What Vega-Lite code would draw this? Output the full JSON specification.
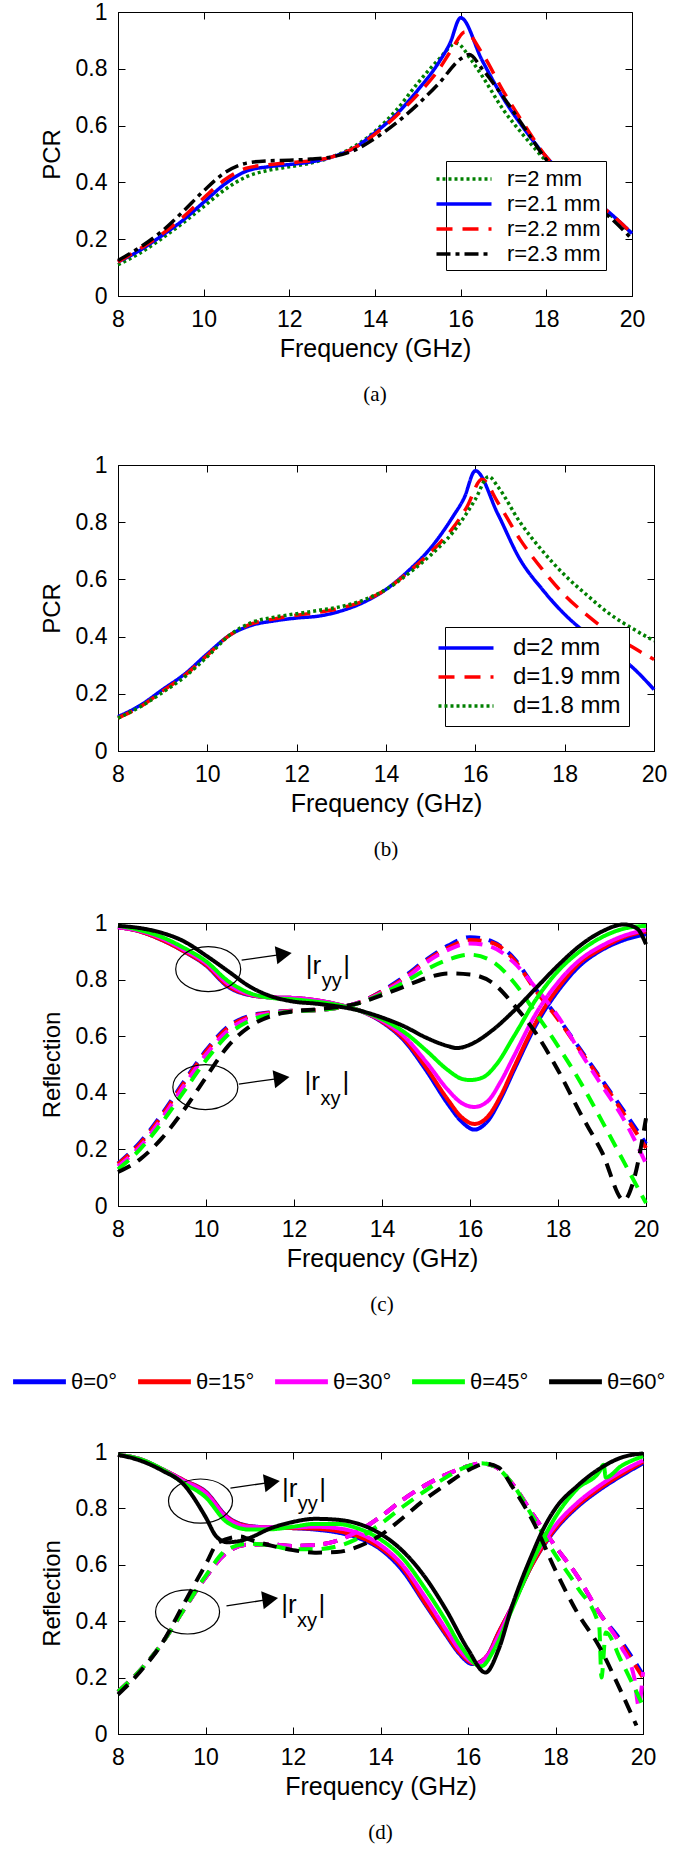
{
"$schema": "https://vega.github.io/schema/vega-lite/v6.json",
"padding": {"left": 25, "top": 0, "right": 5, "bottom": 5},
"background": "white",
"bounds": "flush",
"spacing": 0,
"resolve": {"scale": {"color": "independent", "strokeDash": "independent"}, "legend": {"color": "independent", "strokeDash": "independent"}},
"config": {
  "font": "Liberation Sans",
  "view": {"stroke": "black", "strokeWidth": 1},
  "axis": {"labelFont": "Liberation Sans", "titleFont": "Liberation Sans", "labelFontSize": 23, "titleFontSize": 24, "titleFontWeight": "normal", "labelColor": "black", "titleColor": "black", "domainColor": "black", "tickColor": "black", "tickSize": -7, "grid": false, "labelFlush": false, "labelOverlap": false, "domainWidth": 1, "tickWidth": 1},
  "axisX": {"labelPadding": 19, "titlePadding": 5, "titleFontSize": 25},
  "axisY": {"labelPadding": 18, "titlePadding": 11},
  "title": {"orient": "bottom", "font": "Liberation Serif", "fontSize": 21, "fontWeight": "normal", "offset": 23, "color": "black"},
  "legend": {"labelFont": "Liberation Sans", "labelColor": "black"}
},
"vconcat": [
{
"width": 514, "height": 284,
"title": {"text": "(a)"},
"resolve": {"axis": {"x": "independent", "y": "independent"}},
"data": {"values": [
{"f":8,"v":0.11,"s":"r=2 mm"},{"f":8.5,"v":0.15,"s":"r=2 mm"},{"f":9,"v":0.2,"s":"r=2 mm"},{"f":9.5,"v":0.255,"s":"r=2 mm"},{"f":10,"v":0.315,"s":"r=2 mm"},{"f":10.5,"v":0.375,"s":"r=2 mm"},{"f":11,"v":0.42,"s":"r=2 mm"},{"f":11.5,"v":0.442,"s":"r=2 mm"},{"f":12,"v":0.455,"s":"r=2 mm"},{"f":12.5,"v":0.468,"s":"r=2 mm"},{"f":13,"v":0.49,"s":"r=2 mm"},{"f":13.5,"v":0.525,"s":"r=2 mm"},{"f":14,"v":0.58,"s":"r=2 mm"},{"f":14.5,"v":0.655,"s":"r=2 mm"},{"f":15,"v":0.75,"s":"r=2 mm"},{"f":15.5,"v":0.835,"s":"r=2 mm"},{"f":15.9,"v":0.89,"s":"r=2 mm"},{"f":16.25,"v":0.83,"s":"r=2 mm"},{"f":16.5,"v":0.775,"s":"r=2 mm"},{"f":17,"v":0.655,"s":"r=2 mm"},{"f":17.5,"v":0.56,"s":"r=2 mm"},{"f":18,"v":0.475,"s":"r=2 mm"},{"f":18.5,"v":0.405,"s":"r=2 mm"},{"f":19,"v":0.345,"s":"r=2 mm"},{"f":19.5,"v":0.285,"s":"r=2 mm"},{"f":20,"v":0.22,"s":"r=2 mm"},
{"f":8,"v":0.12,"s":"r=2.1 mm"},{"f":8.5,"v":0.16,"s":"r=2.1 mm"},{"f":9,"v":0.21,"s":"r=2.1 mm"},{"f":9.5,"v":0.265,"s":"r=2.1 mm"},{"f":10,"v":0.33,"s":"r=2.1 mm"},{"f":10.5,"v":0.395,"s":"r=2.1 mm"},{"f":11,"v":0.44,"s":"r=2.1 mm"},{"f":11.5,"v":0.455,"s":"r=2.1 mm"},{"f":12,"v":0.463,"s":"r=2.1 mm"},{"f":12.5,"v":0.472,"s":"r=2.1 mm"},{"f":13,"v":0.49,"s":"r=2.1 mm"},{"f":13.5,"v":0.52,"s":"r=2.1 mm"},{"f":14,"v":0.575,"s":"r=2.1 mm"},{"f":14.5,"v":0.64,"s":"r=2.1 mm"},{"f":15,"v":0.725,"s":"r=2.1 mm"},{"f":15.5,"v":0.825,"s":"r=2.1 mm"},{"f":15.75,"v":0.89,"s":"r=2.1 mm"},{"f":16,"v":0.98,"s":"r=2.1 mm"},{"f":16.5,"v":0.83,"s":"r=2.1 mm"},{"f":17,"v":0.695,"s":"r=2.1 mm"},{"f":17.5,"v":0.585,"s":"r=2.1 mm"},{"f":18,"v":0.49,"s":"r=2.1 mm"},{"f":18.5,"v":0.415,"s":"r=2.1 mm"},{"f":19,"v":0.35,"s":"r=2.1 mm"},{"f":19.5,"v":0.29,"s":"r=2.1 mm"},{"f":20,"v":0.22,"s":"r=2.1 mm"},
{"f":8,"v":0.12,"s":"r=2.2 mm"},{"f":8.5,"v":0.165,"s":"r=2.2 mm"},{"f":9,"v":0.215,"s":"r=2.2 mm"},{"f":9.5,"v":0.275,"s":"r=2.2 mm"},{"f":10,"v":0.345,"s":"r=2.2 mm"},{"f":10.5,"v":0.41,"s":"r=2.2 mm"},{"f":11,"v":0.45,"s":"r=2.2 mm"},{"f":11.5,"v":0.462,"s":"r=2.2 mm"},{"f":12,"v":0.47,"s":"r=2.2 mm"},{"f":12.5,"v":0.476,"s":"r=2.2 mm"},{"f":13,"v":0.49,"s":"r=2.2 mm"},{"f":13.5,"v":0.52,"s":"r=2.2 mm"},{"f":14,"v":0.57,"s":"r=2.2 mm"},{"f":14.5,"v":0.635,"s":"r=2.2 mm"},{"f":15,"v":0.71,"s":"r=2.2 mm"},{"f":15.5,"v":0.8,"s":"r=2.2 mm"},{"f":15.8,"v":0.87,"s":"r=2.2 mm"},{"f":16.1,"v":0.93,"s":"r=2.2 mm"},{"f":16.5,"v":0.855,"s":"r=2.2 mm"},{"f":17,"v":0.72,"s":"r=2.2 mm"},{"f":17.5,"v":0.6,"s":"r=2.2 mm"},{"f":18,"v":0.49,"s":"r=2.2 mm"},{"f":18.5,"v":0.415,"s":"r=2.2 mm"},{"f":19,"v":0.35,"s":"r=2.2 mm"},{"f":19.5,"v":0.29,"s":"r=2.2 mm"},{"f":20,"v":0.22,"s":"r=2.2 mm"},
{"f":8,"v":0.125,"s":"r=2.3 mm"},{"f":8.5,"v":0.17,"s":"r=2.3 mm"},{"f":9,"v":0.225,"s":"r=2.3 mm"},{"f":9.5,"v":0.295,"s":"r=2.3 mm"},{"f":10,"v":0.37,"s":"r=2.3 mm"},{"f":10.5,"v":0.435,"s":"r=2.3 mm"},{"f":11,"v":0.468,"s":"r=2.3 mm"},{"f":11.5,"v":0.476,"s":"r=2.3 mm"},{"f":12,"v":0.478,"s":"r=2.3 mm"},{"f":12.5,"v":0.482,"s":"r=2.3 mm"},{"f":13,"v":0.49,"s":"r=2.3 mm"},{"f":13.5,"v":0.512,"s":"r=2.3 mm"},{"f":14,"v":0.555,"s":"r=2.3 mm"},{"f":14.5,"v":0.61,"s":"r=2.3 mm"},{"f":15,"v":0.675,"s":"r=2.3 mm"},{"f":15.5,"v":0.75,"s":"r=2.3 mm"},{"f":16,"v":0.835,"s":"r=2.3 mm"},{"f":16.2,"v":0.85,"s":"r=2.3 mm"},{"f":16.5,"v":0.8,"s":"r=2.3 mm"},{"f":17,"v":0.7,"s":"r=2.3 mm"},{"f":17.5,"v":0.59,"s":"r=2.3 mm"},{"f":18,"v":0.48,"s":"r=2.3 mm"},{"f":18.5,"v":0.4,"s":"r=2.3 mm"},{"f":19,"v":0.335,"s":"r=2.3 mm"},{"f":19.5,"v":0.275,"s":"r=2.3 mm"},{"f":20,"v":0.2,"s":"r=2.3 mm"}
]},
"layer": [
{"mark": {"type": "line", "interpolate": "monotone", "strokeWidth": 3.5},
 "encoding": {
  "x": {"field": "f", "type": "quantitative", "scale": {"domain": [8, 20], "nice": false, "zero": false}, "axis": {"title": "Frequency (GHz)", "values": [8, 10, 12, 14, 16, 18, 20]}},
  "y": {"field": "v", "type": "quantitative", "scale": {"domain": [0, 1], "nice": false}, "axis": {"title": "PCR", "values": [0, 0.2, 0.4, 0.6, 0.8, 1], "format": ".1~f"}},
  "color": {"field": "s", "type": "nominal", "scale": {"domain": ["r=2 mm", "r=2.1 mm", "r=2.2 mm", "r=2.3 mm"], "range": ["#008000", "#0000ff", "#ff0000", "#000000"]}, "legend": {"title": null, "orient": "bottom-right", "offset": 26, "strokeColor": "black", "fillColor": "white", "padding": 5, "labelFontSize": 22, "symbolType": "M -2.5 0 L 2.5 0", "symbolSize": 484, "symbolStrokeWidth": 3.5, "rowPadding": 1, "labelOffset": 30}},
  "strokeDash": {"field": "s", "type": "nominal", "scale": {"domain": ["r=2 mm", "r=2.1 mm", "r=2.2 mm", "r=2.3 mm"], "range": [[3, 3], [1, 0], [16, 10], [14, 5, 4, 5]]}, "legend": {"title": null, "orient": "bottom-right", "offset": 26, "strokeColor": "black", "fillColor": "white", "padding": 5, "labelFontSize": 22, "symbolType": "M -2.5 0 L 2.5 0", "symbolSize": 484, "symbolStrokeWidth": 3.5, "rowPadding": 1, "labelOffset": 30}}
 }},
{"mark": {"type": "point", "opacity": 0},
 "encoding": {
  "x": {"field": "f", "type": "quantitative", "scale": {"domain": [8, 20], "nice": false, "zero": false}, "axis": {"orient": "top", "title": null, "labels": false, "domain": false, "values": [8, 10, 12, 14, 16, 18, 20]}},
  "y": {"field": "v", "type": "quantitative", "scale": {"domain": [0, 1], "nice": false}, "axis": {"orient": "right", "title": null, "labels": false, "domain": false, "values": [0, 0.2, 0.4, 0.6, 0.8, 1]}}
 }}
]
},
{"width": 1, "height": 169, "view": {"stroke": null}, "data": {"values": [{}]}, "mark": {"type": "point", "opacity": 0}, "encoding": {}},
{
"width": 536, "height": 286,
"title": {"text": "(b)"},
"resolve": {"axis": {"x": "independent", "y": "independent"}},
"data": {"values": [
{"f":8,"v":0.12,"s":"d=2 mm"},{"f":8.5,"v":0.16,"s":"d=2 mm"},{"f":9,"v":0.215,"s":"d=2 mm"},{"f":9.5,"v":0.27,"s":"d=2 mm"},{"f":10,"v":0.34,"s":"d=2 mm"},{"f":10.5,"v":0.405,"s":"d=2 mm"},{"f":11,"v":0.44,"s":"d=2 mm"},{"f":11.5,"v":0.455,"s":"d=2 mm"},{"f":12,"v":0.465,"s":"d=2 mm"},{"f":12.5,"v":0.472,"s":"d=2 mm"},{"f":13,"v":0.49,"s":"d=2 mm"},{"f":13.5,"v":0.52,"s":"d=2 mm"},{"f":14,"v":0.565,"s":"d=2 mm"},{"f":14.5,"v":0.63,"s":"d=2 mm"},{"f":15,"v":0.71,"s":"d=2 mm"},{"f":15.5,"v":0.82,"s":"d=2 mm"},{"f":15.75,"v":0.885,"s":"d=2 mm"},{"f":16,"v":0.98,"s":"d=2 mm"},{"f":16.5,"v":0.83,"s":"d=2 mm"},{"f":17,"v":0.67,"s":"d=2 mm"},{"f":17.5,"v":0.565,"s":"d=2 mm"},{"f":18,"v":0.478,"s":"d=2 mm"},{"f":18.5,"v":0.41,"s":"d=2 mm"},{"f":19,"v":0.355,"s":"d=2 mm"},{"f":19.5,"v":0.295,"s":"d=2 mm"},{"f":20,"v":0.215,"s":"d=2 mm"},
{"f":8,"v":0.115,"s":"d=1.9 mm"},{"f":8.5,"v":0.155,"s":"d=1.9 mm"},{"f":9,"v":0.21,"s":"d=1.9 mm"},{"f":9.5,"v":0.265,"s":"d=1.9 mm"},{"f":10,"v":0.335,"s":"d=1.9 mm"},{"f":10.5,"v":0.405,"s":"d=1.9 mm"},{"f":11,"v":0.445,"s":"d=1.9 mm"},{"f":11.5,"v":0.462,"s":"d=1.9 mm"},{"f":12,"v":0.475,"s":"d=1.9 mm"},{"f":12.5,"v":0.485,"s":"d=1.9 mm"},{"f":13,"v":0.5,"s":"d=1.9 mm"},{"f":13.5,"v":0.525,"s":"d=1.9 mm"},{"f":14,"v":0.565,"s":"d=1.9 mm"},{"f":14.5,"v":0.625,"s":"d=1.9 mm"},{"f":15,"v":0.695,"s":"d=1.9 mm"},{"f":15.5,"v":0.78,"s":"d=1.9 mm"},{"f":15.8,"v":0.85,"s":"d=1.9 mm"},{"f":16.15,"v":0.95,"s":"d=1.9 mm"},{"f":16.5,"v":0.87,"s":"d=1.9 mm"},{"f":17,"v":0.74,"s":"d=1.9 mm"},{"f":17.5,"v":0.635,"s":"d=1.9 mm"},{"f":18,"v":0.545,"s":"d=1.9 mm"},{"f":18.5,"v":0.475,"s":"d=1.9 mm"},{"f":19,"v":0.415,"s":"d=1.9 mm"},{"f":19.5,"v":0.365,"s":"d=1.9 mm"},{"f":20,"v":0.32,"s":"d=1.9 mm"},
{"f":8,"v":0.115,"s":"d=1.8 mm"},{"f":8.5,"v":0.155,"s":"d=1.8 mm"},{"f":9,"v":0.205,"s":"d=1.8 mm"},{"f":9.5,"v":0.26,"s":"d=1.8 mm"},{"f":10,"v":0.33,"s":"d=1.8 mm"},{"f":10.5,"v":0.405,"s":"d=1.8 mm"},{"f":11,"v":0.45,"s":"d=1.8 mm"},{"f":11.5,"v":0.468,"s":"d=1.8 mm"},{"f":12,"v":0.48,"s":"d=1.8 mm"},{"f":12.5,"v":0.492,"s":"d=1.8 mm"},{"f":13,"v":0.505,"s":"d=1.8 mm"},{"f":13.5,"v":0.528,"s":"d=1.8 mm"},{"f":14,"v":0.565,"s":"d=1.8 mm"},{"f":14.5,"v":0.62,"s":"d=1.8 mm"},{"f":15,"v":0.685,"s":"d=1.8 mm"},{"f":15.5,"v":0.765,"s":"d=1.8 mm"},{"f":15.8,"v":0.83,"s":"d=1.8 mm"},{"f":16,"v":0.88,"s":"d=1.8 mm"},{"f":16.3,"v":0.96,"s":"d=1.8 mm"},{"f":16.5,"v":0.925,"s":"d=1.8 mm"},{"f":17,"v":0.8,"s":"d=1.8 mm"},{"f":17.5,"v":0.7,"s":"d=1.8 mm"},{"f":18,"v":0.615,"s":"d=1.8 mm"},{"f":18.5,"v":0.545,"s":"d=1.8 mm"},{"f":19,"v":0.48,"s":"d=1.8 mm"},{"f":19.5,"v":0.43,"s":"d=1.8 mm"},{"f":20,"v":0.385,"s":"d=1.8 mm"}
]},
"layer": [
{"mark": {"type": "line", "interpolate": "monotone", "strokeWidth": 3.5},
 "encoding": {
  "x": {"field": "f", "type": "quantitative", "scale": {"domain": [8, 20], "nice": false, "zero": false}, "axis": {"title": "Frequency (GHz)", "values": [8, 10, 12, 14, 16, 18, 20]}},
  "y": {"field": "v", "type": "quantitative", "scale": {"domain": [0, 1], "nice": false}, "axis": {"title": "PCR", "values": [0, 0.2, 0.4, 0.6, 0.8, 1], "format": ".1~f"}},
  "color": {"field": "s", "type": "nominal", "scale": {"domain": ["d=2 mm", "d=1.9 mm", "d=1.8 mm"], "range": ["#0000ff", "#ff0000", "#008000"]}, "legend": {"title": null, "orient": "bottom-right", "offset": 25, "strokeColor": "black", "fillColor": "white", "padding": 8, "labelFontSize": 24, "symbolType": "M -2.5 0 L 2.5 0", "symbolSize": 484, "symbolStrokeWidth": 3.5, "rowPadding": 4, "labelOffset": 34}},
  "strokeDash": {"field": "s", "type": "nominal", "scale": {"domain": ["d=2 mm", "d=1.9 mm", "d=1.8 mm"], "range": [[1, 0], [16, 10], [3, 3]]}, "legend": {"title": null, "orient": "bottom-right", "offset": 25, "strokeColor": "black", "fillColor": "white", "padding": 8, "labelFontSize": 24, "symbolType": "M -2.5 0 L 2.5 0", "symbolSize": 484, "symbolStrokeWidth": 3.5, "rowPadding": 4, "labelOffset": 34}}
 }},
{"mark": {"type": "point", "opacity": 0},
 "encoding": {
  "x": {"field": "f", "type": "quantitative", "scale": {"domain": [8, 20], "nice": false, "zero": false}, "axis": {"orient": "top", "title": null, "labels": false, "domain": false, "values": [8, 10, 12, 14, 16, 18, 20]}},
  "y": {"field": "v", "type": "quantitative", "scale": {"domain": [0, 1], "nice": false}, "axis": {"orient": "right", "title": null, "labels": false, "domain": false, "values": [0, 0.2, 0.4, 0.6, 0.8, 1]}}
 }}
]
},
{"width": 1, "height": 172, "view": {"stroke": null}, "data": {"values": [{}]}, "mark": {"type": "point", "opacity": 0}, "encoding": {}},
{
"width": 528, "height": 283,
"title": {"text": "(c)"},
"resolve": {"axis": {"x": "independent", "y": "independent"}},
"data": {"values": [
{"f":8,"v":0.985,"a":0,"c":"yy"},{"f":8.5,"v":0.97,"a":0,"c":"yy"},{"f":9,"v":0.94,"a":0,"c":"yy"},{"f":9.5,"v":0.9,"a":0,"c":"yy"},{"f":10,"v":0.85,"a":0,"c":"yy"},{"f":10.5,"v":0.775,"a":0,"c":"yy"},{"f":11,"v":0.745,"a":0,"c":"yy"},{"f":11.5,"v":0.737,"a":0,"c":"yy"},{"f":12,"v":0.735,"a":0,"c":"yy"},{"f":12.5,"v":0.727,"a":0,"c":"yy"},{"f":13,"v":0.712,"a":0,"c":"yy"},{"f":13.5,"v":0.69,"a":0,"c":"yy"},{"f":14,"v":0.65,"a":0,"c":"yy"},{"f":14.5,"v":0.585,"a":0,"c":"yy"},{"f":15,"v":0.48,"a":0,"c":"yy"},{"f":15.5,"v":0.36,"a":0,"c":"yy"},{"f":15.8,"v":0.3,"a":0,"c":"yy"},{"f":16.1,"v":0.27,"a":0,"c":"yy"},{"f":16.4,"v":0.3,"a":0,"c":"yy"},{"f":16.7,"v":0.38,"a":0,"c":"yy"},{"f":17,"v":0.48,"a":0,"c":"yy"},{"f":17.5,"v":0.64,"a":0,"c":"yy"},{"f":18,"v":0.76,"a":0,"c":"yy"},{"f":18.5,"v":0.85,"a":0,"c":"yy"},{"f":19,"v":0.905,"a":0,"c":"yy"},{"f":19.5,"v":0.94,"a":0,"c":"yy"},{"f":20,"v":0.96,"a":0,"c":"yy"},
{"f":8,"v":0.15,"a":0,"c":"xy"},{"f":8.5,"v":0.225,"a":0,"c":"xy"},{"f":9,"v":0.325,"a":0,"c":"xy"},{"f":9.5,"v":0.44,"a":0,"c":"xy"},{"f":10,"v":0.55,"a":0,"c":"xy"},{"f":10.5,"v":0.635,"a":0,"c":"xy"},{"f":11,"v":0.672,"a":0,"c":"xy"},{"f":11.5,"v":0.685,"a":0,"c":"xy"},{"f":12,"v":0.69,"a":0,"c":"xy"},{"f":12.5,"v":0.692,"a":0,"c":"xy"},{"f":13,"v":0.7,"a":0,"c":"xy"},{"f":13.5,"v":0.72,"a":0,"c":"xy"},{"f":14,"v":0.76,"a":0,"c":"xy"},{"f":14.5,"v":0.81,"a":0,"c":"xy"},{"f":15,"v":0.87,"a":0,"c":"xy"},{"f":15.5,"v":0.92,"a":0,"c":"xy"},{"f":16,"v":0.95,"a":0,"c":"xy"},{"f":16.5,"v":0.935,"a":0,"c":"xy"},{"f":17,"v":0.875,"a":0,"c":"xy"},{"f":17.5,"v":0.765,"a":0,"c":"xy"},{"f":18,"v":0.665,"a":0,"c":"xy"},{"f":18.5,"v":0.555,"a":0,"c":"xy"},{"f":19,"v":0.445,"a":0,"c":"xy"},{"f":19.5,"v":0.335,"a":0,"c":"xy"},{"f":20,"v":0.22,"a":0,"c":"xy"},
{"f":8,"v":0.985,"a":15,"c":"yy"},{"f":8.5,"v":0.97,"a":15,"c":"yy"},{"f":9,"v":0.94,"a":15,"c":"yy"},{"f":9.5,"v":0.9,"a":15,"c":"yy"},{"f":10,"v":0.852,"a":15,"c":"yy"},{"f":10.5,"v":0.778,"a":15,"c":"yy"},{"f":11,"v":0.746,"a":15,"c":"yy"},{"f":11.5,"v":0.737,"a":15,"c":"yy"},{"f":12,"v":0.735,"a":15,"c":"yy"},{"f":12.5,"v":0.727,"a":15,"c":"yy"},{"f":13,"v":0.712,"a":15,"c":"yy"},{"f":13.5,"v":0.69,"a":15,"c":"yy"},{"f":14,"v":0.652,"a":15,"c":"yy"},{"f":14.5,"v":0.59,"a":15,"c":"yy"},{"f":15,"v":0.49,"a":15,"c":"yy"},{"f":15.5,"v":0.375,"a":15,"c":"yy"},{"f":15.8,"v":0.315,"a":15,"c":"yy"},{"f":16.1,"v":0.29,"a":15,"c":"yy"},{"f":16.4,"v":0.315,"a":15,"c":"yy"},{"f":16.7,"v":0.39,"a":15,"c":"yy"},{"f":17,"v":0.49,"a":15,"c":"yy"},{"f":17.5,"v":0.65,"a":15,"c":"yy"},{"f":18,"v":0.77,"a":15,"c":"yy"},{"f":18.5,"v":0.86,"a":15,"c":"yy"},{"f":19,"v":0.91,"a":15,"c":"yy"},{"f":19.5,"v":0.95,"a":15,"c":"yy"},{"f":20,"v":0.97,"a":15,"c":"yy"},
{"f":8,"v":0.148,"a":15,"c":"xy"},{"f":8.5,"v":0.22,"a":15,"c":"xy"},{"f":9,"v":0.32,"a":15,"c":"xy"},{"f":9.5,"v":0.435,"a":15,"c":"xy"},{"f":10,"v":0.545,"a":15,"c":"xy"},{"f":10.5,"v":0.63,"a":15,"c":"xy"},{"f":11,"v":0.67,"a":15,"c":"xy"},{"f":11.5,"v":0.684,"a":15,"c":"xy"},{"f":12,"v":0.69,"a":15,"c":"xy"},{"f":12.5,"v":0.692,"a":15,"c":"xy"},{"f":13,"v":0.7,"a":15,"c":"xy"},{"f":13.5,"v":0.72,"a":15,"c":"xy"},{"f":14,"v":0.758,"a":15,"c":"xy"},{"f":14.5,"v":0.805,"a":15,"c":"xy"},{"f":15,"v":0.865,"a":15,"c":"xy"},{"f":15.5,"v":0.912,"a":15,"c":"xy"},{"f":16,"v":0.94,"a":15,"c":"xy"},{"f":16.5,"v":0.93,"a":15,"c":"xy"},{"f":17,"v":0.87,"a":15,"c":"xy"},{"f":17.5,"v":0.76,"a":15,"c":"xy"},{"f":18,"v":0.66,"a":15,"c":"xy"},{"f":18.5,"v":0.55,"a":15,"c":"xy"},{"f":19,"v":0.44,"a":15,"c":"xy"},{"f":19.5,"v":0.325,"a":15,"c":"xy"},{"f":20,"v":0.205,"a":15,"c":"xy"},
{"f":8,"v":0.985,"a":30,"c":"yy"},{"f":8.5,"v":0.972,"a":30,"c":"yy"},{"f":9,"v":0.945,"a":30,"c":"yy"},{"f":9.5,"v":0.905,"a":30,"c":"yy"},{"f":10,"v":0.858,"a":30,"c":"yy"},{"f":10.5,"v":0.785,"a":30,"c":"yy"},{"f":11,"v":0.748,"a":30,"c":"yy"},{"f":11.5,"v":0.737,"a":30,"c":"yy"},{"f":12,"v":0.735,"a":30,"c":"yy"},{"f":12.5,"v":0.727,"a":30,"c":"yy"},{"f":13,"v":0.712,"a":30,"c":"yy"},{"f":13.5,"v":0.69,"a":30,"c":"yy"},{"f":14,"v":0.655,"a":30,"c":"yy"},{"f":14.5,"v":0.6,"a":30,"c":"yy"},{"f":15,"v":0.51,"a":30,"c":"yy"},{"f":15.5,"v":0.41,"a":30,"c":"yy"},{"f":15.8,"v":0.365,"a":30,"c":"yy"},{"f":16.1,"v":0.35,"a":30,"c":"yy"},{"f":16.4,"v":0.37,"a":30,"c":"yy"},{"f":16.7,"v":0.44,"a":30,"c":"yy"},{"f":17,"v":0.53,"a":30,"c":"yy"},{"f":17.5,"v":0.68,"a":30,"c":"yy"},{"f":18,"v":0.79,"a":30,"c":"yy"},{"f":18.5,"v":0.87,"a":30,"c":"yy"},{"f":19,"v":0.92,"a":30,"c":"yy"},{"f":19.5,"v":0.955,"a":30,"c":"yy"},{"f":20,"v":0.975,"a":30,"c":"yy"},
{"f":8,"v":0.14,"a":30,"c":"xy"},{"f":8.5,"v":0.21,"a":30,"c":"xy"},{"f":9,"v":0.31,"a":30,"c":"xy"},{"f":9.5,"v":0.425,"a":30,"c":"xy"},{"f":10,"v":0.535,"a":30,"c":"xy"},{"f":10.5,"v":0.62,"a":30,"c":"xy"},{"f":11,"v":0.665,"a":30,"c":"xy"},{"f":11.5,"v":0.682,"a":30,"c":"xy"},{"f":12,"v":0.689,"a":30,"c":"xy"},{"f":12.5,"v":0.692,"a":30,"c":"xy"},{"f":13,"v":0.7,"a":30,"c":"xy"},{"f":13.5,"v":0.72,"a":30,"c":"xy"},{"f":14,"v":0.755,"a":30,"c":"xy"},{"f":14.5,"v":0.8,"a":30,"c":"xy"},{"f":15,"v":0.86,"a":30,"c":"xy"},{"f":15.5,"v":0.905,"a":30,"c":"xy"},{"f":16,"v":0.928,"a":30,"c":"xy"},{"f":16.5,"v":0.915,"a":30,"c":"xy"},{"f":17,"v":0.86,"a":30,"c":"xy"},{"f":17.5,"v":0.77,"a":30,"c":"xy"},{"f":18,"v":0.67,"a":30,"c":"xy"},{"f":18.5,"v":0.545,"a":30,"c":"xy"},{"f":19,"v":0.425,"a":30,"c":"xy"},{"f":19.5,"v":0.305,"a":30,"c":"xy"},{"f":20,"v":0.15,"a":30,"c":"xy"},
{"f":8,"v":0.99,"a":45,"c":"yy"},{"f":8.5,"v":0.975,"a":45,"c":"yy"},{"f":9,"v":0.95,"a":45,"c":"yy"},{"f":9.5,"v":0.912,"a":45,"c":"yy"},{"f":10,"v":0.865,"a":45,"c":"yy"},{"f":10.5,"v":0.795,"a":45,"c":"yy"},{"f":11,"v":0.752,"a":45,"c":"yy"},{"f":11.5,"v":0.735,"a":45,"c":"yy"},{"f":12,"v":0.73,"a":45,"c":"yy"},{"f":12.5,"v":0.722,"a":45,"c":"yy"},{"f":13,"v":0.71,"a":45,"c":"yy"},{"f":13.5,"v":0.69,"a":45,"c":"yy"},{"f":14,"v":0.66,"a":45,"c":"yy"},{"f":14.5,"v":0.615,"a":45,"c":"yy"},{"f":15,"v":0.55,"a":45,"c":"yy"},{"f":15.5,"v":0.48,"a":45,"c":"yy"},{"f":15.8,"v":0.45,"a":45,"c":"yy"},{"f":16,"v":0.445,"a":45,"c":"yy"},{"f":16.3,"v":0.455,"a":45,"c":"yy"},{"f":16.6,"v":0.5,"a":45,"c":"yy"},{"f":17,"v":0.6,"a":45,"c":"yy"},{"f":17.5,"v":0.73,"a":45,"c":"yy"},{"f":18,"v":0.83,"a":45,"c":"yy"},{"f":18.5,"v":0.9,"a":45,"c":"yy"},{"f":19,"v":0.95,"a":45,"c":"yy"},{"f":19.5,"v":0.98,"a":45,"c":"yy"},{"f":20,"v":0.99,"a":45,"c":"yy"},
{"f":8,"v":0.13,"a":45,"c":"xy"},{"f":8.5,"v":0.2,"a":45,"c":"xy"},{"f":9,"v":0.295,"a":45,"c":"xy"},{"f":9.5,"v":0.405,"a":45,"c":"xy"},{"f":10,"v":0.515,"a":45,"c":"xy"},{"f":10.5,"v":0.605,"a":45,"c":"xy"},{"f":11,"v":0.655,"a":45,"c":"xy"},{"f":11.5,"v":0.678,"a":45,"c":"xy"},{"f":12,"v":0.688,"a":45,"c":"xy"},{"f":12.5,"v":0.692,"a":45,"c":"xy"},{"f":13,"v":0.7,"a":45,"c":"xy"},{"f":13.5,"v":0.718,"a":45,"c":"xy"},{"f":14,"v":0.75,"a":45,"c":"xy"},{"f":14.5,"v":0.79,"a":45,"c":"xy"},{"f":15,"v":0.835,"a":45,"c":"xy"},{"f":15.5,"v":0.87,"a":45,"c":"xy"},{"f":16,"v":0.888,"a":45,"c":"xy"},{"f":16.5,"v":0.865,"a":45,"c":"xy"},{"f":17,"v":0.79,"a":45,"c":"xy"},{"f":17.5,"v":0.68,"a":45,"c":"xy"},{"f":18,"v":0.565,"a":45,"c":"xy"},{"f":18.5,"v":0.44,"a":45,"c":"xy"},{"f":19,"v":0.3,"a":45,"c":"xy"},{"f":19.5,"v":0.155,"a":45,"c":"xy"},{"f":20,"v":0.01,"a":45,"c":"xy"},
{"f":8,"v":0.99,"a":60,"c":"yy"},{"f":8.5,"v":0.982,"a":60,"c":"yy"},{"f":9,"v":0.965,"a":60,"c":"yy"},{"f":9.5,"v":0.935,"a":60,"c":"yy"},{"f":10,"v":0.885,"a":60,"c":"yy"},{"f":10.5,"v":0.83,"a":60,"c":"yy"},{"f":11,"v":0.775,"a":60,"c":"yy"},{"f":11.5,"v":0.74,"a":60,"c":"yy"},{"f":12,"v":0.722,"a":60,"c":"yy"},{"f":12.5,"v":0.715,"a":60,"c":"yy"},{"f":13,"v":0.705,"a":60,"c":"yy"},{"f":13.5,"v":0.69,"a":60,"c":"yy"},{"f":14,"v":0.666,"a":60,"c":"yy"},{"f":14.5,"v":0.635,"a":60,"c":"yy"},{"f":15,"v":0.595,"a":60,"c":"yy"},{"f":15.5,"v":0.565,"a":60,"c":"yy"},{"f":15.7,"v":0.558,"a":60,"c":"yy"},{"f":16,"v":0.57,"a":60,"c":"yy"},{"f":16.5,"v":0.62,"a":60,"c":"yy"},{"f":17,"v":0.69,"a":60,"c":"yy"},{"f":17.5,"v":0.77,"a":60,"c":"yy"},{"f":18,"v":0.85,"a":60,"c":"yy"},{"f":18.5,"v":0.92,"a":60,"c":"yy"},{"f":19,"v":0.97,"a":60,"c":"yy"},{"f":19.5,"v":0.995,"a":60,"c":"yy"},{"f":19.8,"v":0.98,"a":60,"c":"yy"},{"f":20,"v":0.925,"a":60,"c":"yy"},
{"f":8,"v":0.12,"a":60,"c":"xy"},{"f":8.5,"v":0.165,"a":60,"c":"xy"},{"f":9,"v":0.24,"a":60,"c":"xy"},{"f":9.5,"v":0.34,"a":60,"c":"xy"},{"f":10,"v":0.455,"a":60,"c":"xy"},{"f":10.5,"v":0.565,"a":60,"c":"xy"},{"f":11,"v":0.635,"a":60,"c":"xy"},{"f":11.5,"v":0.672,"a":60,"c":"xy"},{"f":12,"v":0.688,"a":60,"c":"xy"},{"f":12.5,"v":0.695,"a":60,"c":"xy"},{"f":13,"v":0.703,"a":60,"c":"xy"},{"f":13.5,"v":0.718,"a":60,"c":"xy"},{"f":14,"v":0.745,"a":60,"c":"xy"},{"f":14.5,"v":0.775,"a":60,"c":"xy"},{"f":15,"v":0.805,"a":60,"c":"xy"},{"f":15.5,"v":0.822,"a":60,"c":"xy"},{"f":16,"v":0.818,"a":60,"c":"xy"},{"f":16.5,"v":0.79,"a":60,"c":"xy"},{"f":17,"v":0.71,"a":60,"c":"xy"},{"f":17.5,"v":0.61,"a":60,"c":"xy"},{"f":18,"v":0.48,"a":60,"c":"xy"},{"f":18.5,"v":0.33,"a":60,"c":"xy"},{"f":19,"v":0.19,"a":60,"c":"xy"},{"f":19.5,"v":0.02,"a":60,"c":"xy"},{"f":19.7,"v":0.08,"a":60,"c":"xy"},{"f":20,"v":0.31,"a":60,"c":"xy"}
]},
"layer": [
{"mark": {"type": "line", "interpolate": "monotone", "strokeWidth": 4},
 "encoding": {
  "x": {"field": "f", "type": "quantitative", "scale": {"domain": [8, 20], "nice": false, "zero": false}, "axis": {"title": "Frequency (GHz)", "values": [8, 10, 12, 14, 16, 18, 20]}},
  "y": {"field": "v", "type": "quantitative", "scale": {"domain": [0, 1], "nice": false}, "axis": {"title": "Reflection", "values": [0, 0.2, 0.4, 0.6, 0.8, 1], "format": ".1~f"}},
  "color": {"field": "a", "type": "nominal", "scale": {"domain": [0, 15, 30, 45, 60], "range": ["#0000ff", "#ff0000", "#ff00ff", "#00ff00", "#000000"]}, "legend": null},
  "strokeDash": {"field": "c", "type": "nominal", "scale": {"domain": ["yy", "xy"], "range": [[1, 0], [14, 9]]}, "legend": null}
 }},
{"mark": {"type": "point", "opacity": 0},
 "encoding": {
  "x": {"field": "f", "type": "quantitative", "scale": {"domain": [8, 20], "nice": false, "zero": false}, "axis": {"orient": "top", "title": null, "labels": false, "domain": false, "values": [8, 10, 12, 14, 16, 18, 20]}},
  "y": {"field": "v", "type": "quantitative", "scale": {"domain": [0, 1], "nice": false}, "axis": {"orient": "right", "title": null, "labels": false, "domain": false, "values": [0, 0.2, 0.4, 0.6, 0.8, 1]}}
 }},
{"data": {"values": [{"f": 10.05, "v": 0.837}, {"f": 9.985, "v": 0.42}]},
 "mark": {"type": "point", "shape": "M -1 0 A 1 0.69 0 1 1 1 0 A 1 0.69 0 1 1 -1 0 Z", "size": 4225, "filled": false, "color": "black", "strokeWidth": 1.2, "opacity": 1},
 "encoding": {
  "x": {"field": "f", "type": "quantitative", "scale": {"domain": [8, 20], "nice": false, "zero": false}, "axis": null},
  "y": {"field": "v", "type": "quantitative", "scale": {"domain": [0, 1], "nice": false}, "axis": null}
 }},
{"data": {"values": [{"f": 10.81, "v": 0.869, "f2": 11.77, "v2": 0.89}, {"f": 10.745, "v": 0.431, "f2": 11.72, "v2": 0.452}]},
 "mark": {"type": "rule", "color": "black", "strokeWidth": 1.3},
 "encoding": {
  "x": {"field": "f", "type": "quantitative", "scale": {"domain": [8, 20], "nice": false, "zero": false}, "axis": null},
  "y": {"field": "v", "type": "quantitative", "scale": {"domain": [0, 1], "nice": false}, "axis": null},
  "x2": {"field": "f2"},
  "y2": {"field": "v2"}
 }},
{"data": {"values": [{"f": 11.77, "v": 0.89}, {"f": 11.72, "v": 0.452}]},
 "mark": {"type": "point", "shape": "triangle-right", "size": 330, "filled": true, "color": "black", "angle": -8, "opacity": 1},
 "encoding": {
  "x": {"field": "f", "type": "quantitative", "scale": {"domain": [8, 20], "nice": false, "zero": false}, "axis": null},
  "y": {"field": "v", "type": "quantitative", "scale": {"domain": [0, 1], "nice": false}, "axis": null}
 }},
{"data": {"values": [{"f": 12.265, "v": 0.848, "t": "|r"}, {"f": 13.12, "v": 0.848, "t": "|"}, {"f": 12.24, "v": 0.438, "t": "|r"}, {"f": 13.1, "v": 0.438, "t": "|"}]},
 "mark": {"type": "text", "align": "left", "baseline": "middle", "fontSize": 26, "font": "Liberation Sans", "color": "black"},
 "encoding": {
  "x": {"field": "f", "type": "quantitative", "scale": {"domain": [8, 20], "nice": false, "zero": false}, "axis": null},
  "y": {"field": "v", "type": "quantitative", "scale": {"domain": [0, 1], "nice": false}, "axis": null},
  "text": {"field": "t"}
 }},
{"data": {"values": [{"f": 12.63, "v": 0.795, "t": "yy"}, {"f": 12.6, "v": 0.378, "t": "xy"}]},
 "mark": {"type": "text", "align": "left", "baseline": "middle", "fontSize": 20, "font": "Liberation Sans", "color": "black"},
 "encoding": {
  "x": {"field": "f", "type": "quantitative", "scale": {"domain": [8, 20], "nice": false, "zero": false}, "axis": null},
  "y": {"field": "v", "type": "quantitative", "scale": {"domain": [0, 1], "nice": false}, "axis": null},
  "text": {"field": "t"}
 }}
]
},
{"width": 1, "height": 246, "view": {"stroke": null}, "data": {"values": [{}]}, "mark": {"type": "point", "opacity": 0}, "encoding": {}},
{
"width": 525, "height": 282,
"title": {"text": "(d)"},
"resolve": {"axis": {"x": "independent", "y": "independent"}},
"data": {"values": [
{"f":8,"v":0.99,"a":0,"c":"yy"},{"f":8.5,"v":0.975,"a":0,"c":"yy"},{"f":9,"v":0.94,"a":0,"c":"yy"},{"f":9.5,"v":0.9,"a":0,"c":"yy"},{"f":10,"v":0.86,"a":0,"c":"yy"},{"f":10.5,"v":0.77,"a":0,"c":"yy"},{"f":11,"v":0.738,"a":0,"c":"yy"},{"f":11.5,"v":0.732,"a":0,"c":"yy"},{"f":12,"v":0.73,"a":0,"c":"yy"},{"f":12.5,"v":0.725,"a":0,"c":"yy"},{"f":13,"v":0.715,"a":0,"c":"yy"},{"f":13.5,"v":0.695,"a":0,"c":"yy"},{"f":14,"v":0.655,"a":0,"c":"yy"},{"f":14.5,"v":0.58,"a":0,"c":"yy"},{"f":15,"v":0.465,"a":0,"c":"yy"},{"f":15.5,"v":0.35,"a":0,"c":"yy"},{"f":15.8,"v":0.285,"a":0,"c":"yy"},{"f":16.1,"v":0.248,"a":0,"c":"yy"},{"f":16.4,"v":0.27,"a":0,"c":"yy"},{"f":16.7,"v":0.36,"a":0,"c":"yy"},{"f":17,"v":0.45,"a":0,"c":"yy"},{"f":17.5,"v":0.61,"a":0,"c":"yy"},{"f":18,"v":0.725,"a":0,"c":"yy"},{"f":18.5,"v":0.805,"a":0,"c":"yy"},{"f":19,"v":0.865,"a":0,"c":"yy"},{"f":19.5,"v":0.915,"a":0,"c":"yy"},{"f":20,"v":0.96,"a":0,"c":"yy"},
{"f":8,"v":0.15,"a":0,"c":"xy"},{"f":8.5,"v":0.225,"a":0,"c":"xy"},{"f":9,"v":0.32,"a":0,"c":"xy"},{"f":9.5,"v":0.44,"a":0,"c":"xy"},{"f":10,"v":0.555,"a":0,"c":"xy"},{"f":10.5,"v":0.645,"a":0,"c":"xy"},{"f":11,"v":0.672,"a":0,"c":"xy"},{"f":11.5,"v":0.672,"a":0,"c":"xy"},{"f":12,"v":0.667,"a":0,"c":"xy"},{"f":12.5,"v":0.67,"a":0,"c":"xy"},{"f":13,"v":0.685,"a":0,"c":"xy"},{"f":13.5,"v":0.72,"a":0,"c":"xy"},{"f":14,"v":0.77,"a":0,"c":"xy"},{"f":14.5,"v":0.83,"a":0,"c":"xy"},{"f":15,"v":0.88,"a":0,"c":"xy"},{"f":15.5,"v":0.92,"a":0,"c":"xy"},{"f":16,"v":0.95,"a":0,"c":"xy"},{"f":16.3,"v":0.96,"a":0,"c":"xy"},{"f":16.6,"v":0.95,"a":0,"c":"xy"},{"f":17,"v":0.89,"a":0,"c":"xy"},{"f":17.5,"v":0.775,"a":0,"c":"xy"},{"f":18,"v":0.665,"a":0,"c":"xy"},{"f":18.5,"v":0.56,"a":0,"c":"xy"},{"f":19,"v":0.43,"a":0,"c":"xy"},{"f":19.5,"v":0.33,"a":0,"c":"xy"},{"f":20,"v":0.21,"a":0,"c":"xy"},
{"f":8,"v":0.99,"a":15,"c":"yy"},{"f":8.5,"v":0.975,"a":15,"c":"yy"},{"f":9,"v":0.94,"a":15,"c":"yy"},{"f":9.5,"v":0.9,"a":15,"c":"yy"},{"f":10,"v":0.858,"a":15,"c":"yy"},{"f":10.5,"v":0.768,"a":15,"c":"yy"},{"f":11,"v":0.737,"a":15,"c":"yy"},{"f":11.5,"v":0.732,"a":15,"c":"yy"},{"f":12,"v":0.73,"a":15,"c":"yy"},{"f":12.5,"v":0.728,"a":15,"c":"yy"},{"f":13,"v":0.72,"a":15,"c":"yy"},{"f":13.5,"v":0.7,"a":15,"c":"yy"},{"f":14,"v":0.66,"a":15,"c":"yy"},{"f":14.5,"v":0.59,"a":15,"c":"yy"},{"f":15,"v":0.47,"a":15,"c":"yy"},{"f":15.5,"v":0.355,"a":15,"c":"yy"},{"f":15.8,"v":0.29,"a":15,"c":"yy"},{"f":16.15,"v":0.25,"a":15,"c":"yy"},{"f":16.45,"v":0.28,"a":15,"c":"yy"},{"f":16.7,"v":0.36,"a":15,"c":"yy"},{"f":17,"v":0.45,"a":15,"c":"yy"},{"f":17.5,"v":0.61,"a":15,"c":"yy"},{"f":18,"v":0.73,"a":15,"c":"yy"},{"f":18.5,"v":0.81,"a":15,"c":"yy"},{"f":19,"v":0.87,"a":15,"c":"yy"},{"f":19.5,"v":0.92,"a":15,"c":"yy"},{"f":20,"v":0.965,"a":15,"c":"yy"},
{"f":8,"v":0.15,"a":15,"c":"xy"},{"f":8.5,"v":0.225,"a":15,"c":"xy"},{"f":9,"v":0.32,"a":15,"c":"xy"},{"f":9.5,"v":0.44,"a":15,"c":"xy"},{"f":10,"v":0.555,"a":15,"c":"xy"},{"f":10.5,"v":0.645,"a":15,"c":"xy"},{"f":11,"v":0.672,"a":15,"c":"xy"},{"f":11.5,"v":0.672,"a":15,"c":"xy"},{"f":12,"v":0.667,"a":15,"c":"xy"},{"f":12.5,"v":0.67,"a":15,"c":"xy"},{"f":13,"v":0.685,"a":15,"c":"xy"},{"f":13.5,"v":0.72,"a":15,"c":"xy"},{"f":14,"v":0.77,"a":15,"c":"xy"},{"f":14.5,"v":0.83,"a":15,"c":"xy"},{"f":15,"v":0.88,"a":15,"c":"xy"},{"f":15.5,"v":0.92,"a":15,"c":"xy"},{"f":16,"v":0.95,"a":15,"c":"xy"},{"f":16.3,"v":0.96,"a":15,"c":"xy"},{"f":16.6,"v":0.95,"a":15,"c":"xy"},{"f":17,"v":0.89,"a":15,"c":"xy"},{"f":17.5,"v":0.775,"a":15,"c":"xy"},{"f":18,"v":0.665,"a":15,"c":"xy"},{"f":18.5,"v":0.56,"a":15,"c":"xy"},{"f":19,"v":0.43,"a":15,"c":"xy"},{"f":19.5,"v":0.32,"a":15,"c":"xy"},{"f":20,"v":0.2,"a":15,"c":"xy"},
{"f":8,"v":0.99,"a":30,"c":"yy"},{"f":8.5,"v":0.975,"a":30,"c":"yy"},{"f":9,"v":0.94,"a":30,"c":"yy"},{"f":9.5,"v":0.898,"a":30,"c":"yy"},{"f":10,"v":0.855,"a":30,"c":"yy"},{"f":10.5,"v":0.765,"a":30,"c":"yy"},{"f":11,"v":0.735,"a":30,"c":"yy"},{"f":11.5,"v":0.733,"a":30,"c":"yy"},{"f":12,"v":0.733,"a":30,"c":"yy"},{"f":12.5,"v":0.735,"a":30,"c":"yy"},{"f":13,"v":0.73,"a":30,"c":"yy"},{"f":13.5,"v":0.712,"a":30,"c":"yy"},{"f":14,"v":0.67,"a":30,"c":"yy"},{"f":14.5,"v":0.6,"a":30,"c":"yy"},{"f":15,"v":0.49,"a":30,"c":"yy"},{"f":15.5,"v":0.37,"a":30,"c":"yy"},{"f":15.8,"v":0.3,"a":30,"c":"yy"},{"f":16.2,"v":0.25,"a":30,"c":"yy"},{"f":16.5,"v":0.29,"a":30,"c":"yy"},{"f":16.7,"v":0.35,"a":30,"c":"yy"},{"f":17,"v":0.45,"a":30,"c":"yy"},{"f":17.5,"v":0.62,"a":30,"c":"yy"},{"f":18,"v":0.74,"a":30,"c":"yy"},{"f":18.5,"v":0.82,"a":30,"c":"yy"},{"f":19,"v":0.88,"a":30,"c":"yy"},{"f":19.5,"v":0.93,"a":30,"c":"yy"},{"f":20,"v":0.97,"a":30,"c":"yy"},
{"f":8,"v":0.15,"a":30,"c":"xy"},{"f":8.5,"v":0.225,"a":30,"c":"xy"},{"f":9,"v":0.32,"a":30,"c":"xy"},{"f":9.5,"v":0.44,"a":30,"c":"xy"},{"f":10,"v":0.555,"a":30,"c":"xy"},{"f":10.5,"v":0.645,"a":30,"c":"xy"},{"f":11,"v":0.672,"a":30,"c":"xy"},{"f":11.5,"v":0.672,"a":30,"c":"xy"},{"f":12,"v":0.667,"a":30,"c":"xy"},{"f":12.5,"v":0.67,"a":30,"c":"xy"},{"f":13,"v":0.685,"a":30,"c":"xy"},{"f":13.5,"v":0.72,"a":30,"c":"xy"},{"f":14,"v":0.77,"a":30,"c":"xy"},{"f":14.5,"v":0.83,"a":30,"c":"xy"},{"f":15,"v":0.88,"a":30,"c":"xy"},{"f":15.5,"v":0.92,"a":30,"c":"xy"},{"f":16,"v":0.95,"a":30,"c":"xy"},{"f":16.3,"v":0.96,"a":30,"c":"xy"},{"f":16.6,"v":0.95,"a":30,"c":"xy"},{"f":17,"v":0.89,"a":30,"c":"xy"},{"f":17.5,"v":0.775,"a":30,"c":"xy"},{"f":18,"v":0.665,"a":30,"c":"xy"},{"f":18.5,"v":0.56,"a":30,"c":"xy"},{"f":19,"v":0.43,"a":30,"c":"xy"},{"f":19.5,"v":0.31,"a":30,"c":"xy"},{"f":19.8,"v":0.2,"a":30,"c":"xy"},{"f":19.9,"v":0.1,"a":30,"c":"xy"},{"f":20,"v":0.22,"a":30,"c":"xy"},
{"f":8,"v":0.99,"a":45,"c":"yy"},{"f":8.5,"v":0.975,"a":45,"c":"yy"},{"f":9,"v":0.94,"a":45,"c":"yy"},{"f":9.5,"v":0.89,"a":45,"c":"yy"},{"f":10,"v":0.84,"a":45,"c":"yy"},{"f":10.5,"v":0.75,"a":45,"c":"yy"},{"f":11,"v":0.725,"a":45,"c":"yy"},{"f":11.5,"v":0.726,"a":45,"c":"yy"},{"f":12,"v":0.735,"a":45,"c":"yy"},{"f":12.5,"v":0.745,"a":45,"c":"yy"},{"f":13,"v":0.745,"a":45,"c":"yy"},{"f":13.5,"v":0.728,"a":45,"c":"yy"},{"f":14,"v":0.69,"a":45,"c":"yy"},{"f":14.5,"v":0.625,"a":45,"c":"yy"},{"f":15,"v":0.52,"a":45,"c":"yy"},{"f":15.5,"v":0.4,"a":45,"c":"yy"},{"f":15.8,"v":0.32,"a":45,"c":"yy"},{"f":16.3,"v":0.24,"a":45,"c":"yy"},{"f":16.6,"v":0.3,"a":45,"c":"yy"},{"f":17,"v":0.44,"a":45,"c":"yy"},{"f":17.5,"v":0.62,"a":45,"c":"yy"},{"f":18,"v":0.77,"a":45,"c":"yy"},{"f":18.5,"v":0.87,"a":45,"c":"yy"},{"f":19,"v":0.93,"a":45,"c":"yy"},{"f":19.1,"v":0.955,"a":45,"c":"yy"},{"f":19.15,"v":0.91,"a":45,"c":"yy"},{"f":19.5,"v":0.95,"a":45,"c":"yy"},{"f":20,"v":0.985,"a":45,"c":"yy"},
{"f":8,"v":0.15,"a":45,"c":"xy"},{"f":8.5,"v":0.225,"a":45,"c":"xy"},{"f":9,"v":0.32,"a":45,"c":"xy"},{"f":9.5,"v":0.44,"a":45,"c":"xy"},{"f":10,"v":0.56,"a":45,"c":"xy"},{"f":10.5,"v":0.655,"a":45,"c":"xy"},{"f":11,"v":0.675,"a":45,"c":"xy"},{"f":11.5,"v":0.668,"a":45,"c":"xy"},{"f":12,"v":0.655,"a":45,"c":"xy"},{"f":12.5,"v":0.655,"a":45,"c":"xy"},{"f":13,"v":0.665,"a":45,"c":"xy"},{"f":13.5,"v":0.695,"a":45,"c":"xy"},{"f":14,"v":0.745,"a":45,"c":"xy"},{"f":14.5,"v":0.805,"a":45,"c":"xy"},{"f":15,"v":0.86,"a":45,"c":"xy"},{"f":15.5,"v":0.91,"a":45,"c":"xy"},{"f":16,"v":0.95,"a":45,"c":"xy"},{"f":16.3,"v":0.96,"a":45,"c":"xy"},{"f":16.6,"v":0.95,"a":45,"c":"xy"},{"f":17,"v":0.89,"a":45,"c":"xy"},{"f":17.5,"v":0.765,"a":45,"c":"xy"},{"f":18,"v":0.635,"a":45,"c":"xy"},{"f":18.5,"v":0.52,"a":45,"c":"xy"},{"f":19,"v":0.38,"a":45,"c":"xy"},{"f":19.05,"v":0.2,"a":45,"c":"xy"},{"f":19.15,"v":0.36,"a":45,"c":"xy"},{"f":19.5,"v":0.26,"a":45,"c":"xy"},{"f":20,"v":0.1,"a":45,"c":"xy"},
{"f":8,"v":0.99,"a":60,"c":"yy"},{"f":8.5,"v":0.97,"a":60,"c":"yy"},{"f":9,"v":0.935,"a":60,"c":"yy"},{"f":9.5,"v":0.885,"a":60,"c":"yy"},{"f":10,"v":0.77,"a":60,"c":"yy"},{"f":10.25,"v":0.7,"a":60,"c":"yy"},{"f":10.5,"v":0.68,"a":60,"c":"yy"},{"f":10.8,"v":0.685,"a":60,"c":"yy"},{"f":11,"v":0.695,"a":60,"c":"yy"},{"f":11.5,"v":0.73,"a":60,"c":"yy"},{"f":12,"v":0.752,"a":60,"c":"yy"},{"f":12.5,"v":0.763,"a":60,"c":"yy"},{"f":13,"v":0.76,"a":60,"c":"yy"},{"f":13.5,"v":0.745,"a":60,"c":"yy"},{"f":14,"v":0.71,"a":60,"c":"yy"},{"f":14.5,"v":0.65,"a":60,"c":"yy"},{"f":15,"v":0.56,"a":60,"c":"yy"},{"f":15.5,"v":0.44,"a":60,"c":"yy"},{"f":16,"v":0.3,"a":60,"c":"yy"},{"f":16.4,"v":0.218,"a":60,"c":"yy"},{"f":16.7,"v":0.3,"a":60,"c":"yy"},{"f":17,"v":0.45,"a":60,"c":"yy"},{"f":17.5,"v":0.65,"a":60,"c":"yy"},{"f":17.7,"v":0.72,"a":60,"c":"yy"},{"f":18,"v":0.8,"a":60,"c":"yy"},{"f":18.5,"v":0.88,"a":60,"c":"yy"},{"f":19,"v":0.94,"a":60,"c":"yy"},{"f":19.5,"v":0.98,"a":60,"c":"yy"},{"f":20,"v":0.995,"a":60,"c":"yy"},
{"f":8,"v":0.14,"a":60,"c":"xy"},{"f":8.5,"v":0.22,"a":60,"c":"xy"},{"f":9,"v":0.32,"a":60,"c":"xy"},{"f":9.5,"v":0.46,"a":60,"c":"xy"},{"f":10,"v":0.6,"a":60,"c":"xy"},{"f":10.3,"v":0.68,"a":60,"c":"xy"},{"f":10.8,"v":0.7,"a":60,"c":"xy"},{"f":11,"v":0.69,"a":60,"c":"xy"},{"f":11.5,"v":0.668,"a":60,"c":"xy"},{"f":12,"v":0.652,"a":60,"c":"xy"},{"f":12.5,"v":0.643,"a":60,"c":"xy"},{"f":13,"v":0.645,"a":60,"c":"xy"},{"f":13.5,"v":0.665,"a":60,"c":"xy"},{"f":14,"v":0.705,"a":60,"c":"xy"},{"f":14.5,"v":0.765,"a":60,"c":"xy"},{"f":15,"v":0.83,"a":60,"c":"xy"},{"f":15.5,"v":0.885,"a":60,"c":"xy"},{"f":16,"v":0.935,"a":60,"c":"xy"},{"f":16.4,"v":0.958,"a":60,"c":"xy"},{"f":16.7,"v":0.945,"a":60,"c":"xy"},{"f":17,"v":0.88,"a":60,"c":"xy"},{"f":17.5,"v":0.75,"a":60,"c":"xy"},{"f":18,"v":0.58,"a":60,"c":"xy"},{"f":18.5,"v":0.43,"a":60,"c":"xy"},{"f":19,"v":0.31,"a":60,"c":"xy"},{"f":19.5,"v":0.15,"a":60,"c":"xy"},{"f":19.85,"v":0.03,"a":60,"c":"xy"}
]},
"layer": [
{"mark": {"type": "line", "interpolate": "monotone", "strokeWidth": 4},
 "encoding": {
  "x": {"field": "f", "type": "quantitative", "scale": {"domain": [8, 20], "nice": false, "zero": false}, "axis": {"title": "Frequency (GHz)", "values": [8, 10, 12, 14, 16, 18, 20]}},
  "y": {"field": "v", "type": "quantitative", "scale": {"domain": [0, 1], "nice": false}, "axis": {"title": "Reflection", "values": [0, 0.2, 0.4, 0.6, 0.8, 1], "format": ".1~f"}},
  "color": {"field": "a", "type": "nominal", "scale": {"domain": [0, 15, 30, 45, 60], "range": ["#0000ff", "#ff0000", "#ff00ff", "#00ff00", "#000000"]}, "legend": {"title": null, "orient": "none", "legendX": -92, "legendY": -84, "direction": "horizontal", "columns": 5, "symbolType": "M -2.4 0 L 2.4 0", "symbolSize": 484, "symbolStrokeWidth": 5, "labelFontSize": 22, "labelOffset": 18, "columnPadding": 10, "padding": 0, "labelExpr": "'θ=' + datum.label + '°'"}},
  "strokeDash": {"field": "c", "type": "nominal", "scale": {"domain": ["yy", "xy"], "range": [[1, 0], [14, 9]]}, "legend": null}
 }},
{"mark": {"type": "point", "opacity": 0},
 "encoding": {
  "x": {"field": "f", "type": "quantitative", "scale": {"domain": [8, 20], "nice": false, "zero": false}, "axis": {"orient": "top", "title": null, "labels": false, "domain": false, "values": [8, 10, 12, 14, 16, 18, 20]}},
  "y": {"field": "v", "type": "quantitative", "scale": {"domain": [0, 1], "nice": false}, "axis": {"orient": "right", "title": null, "labels": false, "domain": false, "values": [0, 0.2, 0.4, 0.6, 0.8, 1]}}
 }},
{"data": {"values": [{"f": 9.886, "v": 0.826}, {"f": 9.59, "v": 0.433}]},
 "mark": {"type": "point", "shape": "M -1 0 A 1 0.69 0 1 1 1 0 A 1 0.69 0 1 1 -1 0 Z", "size": 4100, "filled": false, "color": "black", "strokeWidth": 1.2, "opacity": 1},
 "encoding": {
  "x": {"field": "f", "type": "quantitative", "scale": {"domain": [8, 20], "nice": false, "zero": false}, "axis": null},
  "y": {"field": "v", "type": "quantitative", "scale": {"domain": [0, 1], "nice": false}, "axis": null}
 }},
{"data": {"values": [{"f": 10.57, "v": 0.872, "f2": 11.52, "v2": 0.893}, {"f": 10.48, "v": 0.454, "f2": 11.48, "v2": 0.478}]},
 "mark": {"type": "rule", "color": "black", "strokeWidth": 1.3},
 "encoding": {
  "x": {"field": "f", "type": "quantitative", "scale": {"domain": [8, 20], "nice": false, "zero": false}, "axis": null},
  "y": {"field": "v", "type": "quantitative", "scale": {"domain": [0, 1], "nice": false}, "axis": null},
  "x2": {"field": "f2"},
  "y2": {"field": "v2"}
 }},
{"data": {"values": [{"f": 11.52, "v": 0.893}, {"f": 11.48, "v": 0.478}]},
 "mark": {"type": "point", "shape": "triangle-right", "size": 330, "filled": true, "color": "black", "angle": -8, "opacity": 1},
 "encoding": {
  "x": {"field": "f", "type": "quantitative", "scale": {"domain": [8, 20], "nice": false, "zero": false}, "axis": null},
  "y": {"field": "v", "type": "quantitative", "scale": {"domain": [0, 1], "nice": false}, "axis": null}
 }},
{"data": {"values": [{"f": 11.75, "v": 0.869, "t": "|r"}, {"f": 12.6, "v": 0.869, "t": "|"}, {"f": 11.73, "v": 0.457, "t": "|r"}, {"f": 12.58, "v": 0.457, "t": "|"}]},
 "mark": {"type": "text", "align": "left", "baseline": "middle", "fontSize": 26, "font": "Liberation Sans", "color": "black"},
 "encoding": {
  "x": {"field": "f", "type": "quantitative", "scale": {"domain": [8, 20], "nice": false, "zero": false}, "axis": null},
  "y": {"field": "v", "type": "quantitative", "scale": {"domain": [0, 1], "nice": false}, "axis": null},
  "text": {"field": "t"}
 }},
{"data": {"values": [{"f": 12.11, "v": 0.816, "t": "yy"}, {"f": 12.09, "v": 0.4, "t": "xy"}]},
 "mark": {"type": "text", "align": "left", "baseline": "middle", "fontSize": 20, "font": "Liberation Sans", "color": "black"},
 "encoding": {
  "x": {"field": "f", "type": "quantitative", "scale": {"domain": [8, 20], "nice": false, "zero": false}, "axis": null},
  "y": {"field": "v", "type": "quantitative", "scale": {"domain": [0, 1], "nice": false}, "axis": null},
  "text": {"field": "t"}
 }}
]
}
]
}
